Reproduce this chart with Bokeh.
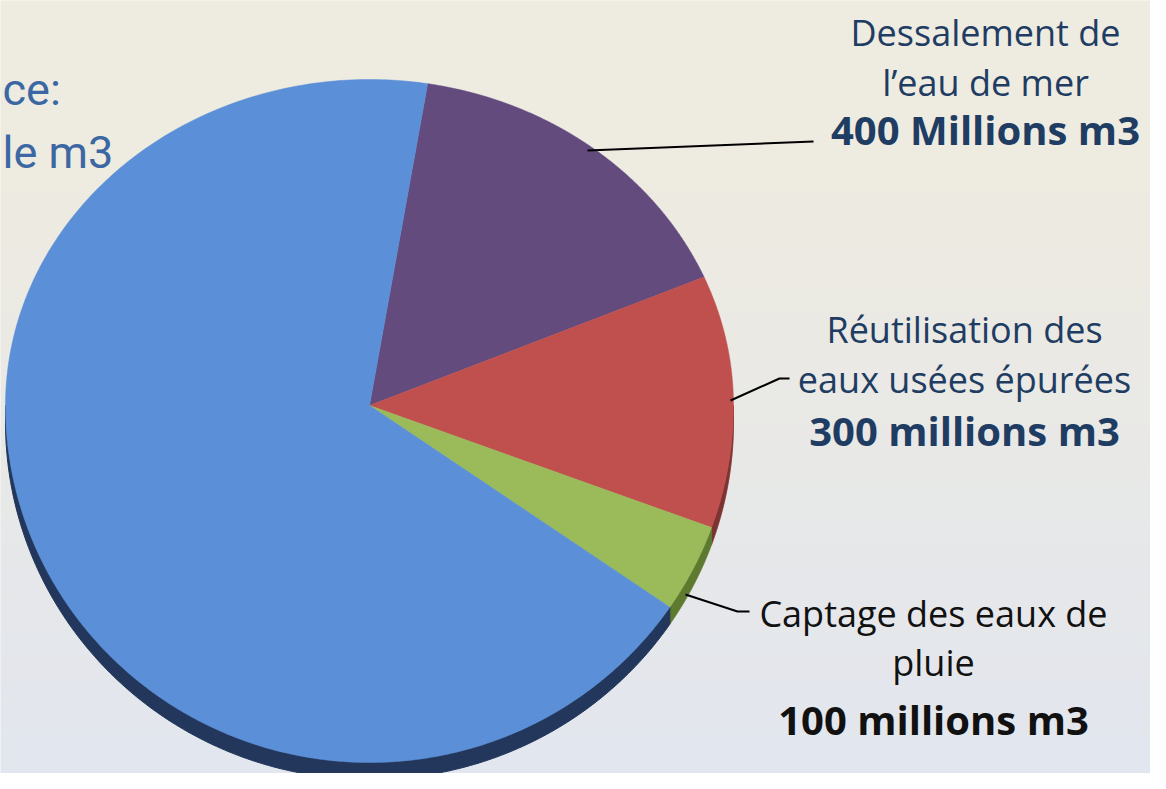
import numpy as np
from bokeh.plotting import figure
from bokeh.models import Range1d
from bokeh.core.properties import value
from bokeh.embed import file_html
from bokeh.resources import INLINE

# ---------------- data ----------------
categories = ["Dessalement de l’eau de mer",
              "Réutilisation des eaux usées épurées",
              "Captage des eaux de pluie",
              "Autres ressources"]
values = [400, 300, 100, 1700]          # millions m3
colors = ["#634b7e", "#c0504e", "#9bbb5a", "#5b8fd7"]
side_colors = ["#3e2f52", "#7e3331", "#5e7a2f", "#22375b"]

label_lines = [["Dessalement de", "l’eau de mer", "400 Millions m3"],
               ["Réutilisation des", "eaux usées épurées", "300 millions m3"],
               ["Captage des eaux de", "pluie", "100 millions m3"]]
label_colors = ["#1f3d63", "#1f3d63", "#111111"]
title_lines = ["ce:", "le m3"]

# ---------------- layout ----------------
W, H = 1150, 773
CX, CY = 369, 405        # pie vertex (screen px)
RX, RY_TOP, RY_BOT = 364, 326, 357
DEPTH = 17
START = 80.8             # degrees, first slice starts here, clockwise

label_x = [985, 964, 933]
label_y = [[32, 82, 129], [329, 379, 430], [613, 662, 719]]
leaders = [([587, 813], [150, 141]),
           ([730, 779, 789], [400, 378, 378]),
           ([685, 737, 749], [594, 611, 611])]

p = figure(width=W, height=H, x_range=Range1d(0, W), y_range=Range1d(H, 0),
           output_backend="svg", toolbar_location=None, min_border=0)
p.axis.visible = False
p.grid.visible = False
p.outline_line_color = None
p.background_fill_color = "#eceae4"
p.border_fill_color = "#eceae4"

# background gradient (beige -> light blue grey)
nb = 120
top_c = np.array([0xee, 0xeb, 0xe1])
bot_c = np.array([0xe2, 0xe6, 0xef])
edges = np.linspace(0, H, nb + 1)
bg_cols = []
for i in range(nb):
    t = (edges[i] + edges[i + 1]) / 2 / H
    t = max(0.0, (t - 0.25) / 0.75)
    c = (top_c * (1 - t) + bot_c * t).astype(int)
    bg_cols.append("#%02x%02x%02x" % tuple(c))
p.quad(left=0, right=W, top=edges[:-1], bottom=edges[1:], fill_color=bg_cols,
       line_color=None)


def pt(theta_deg, dy=0.0):
    t = np.radians(theta_deg)
    s = np.sin(t)
    ry = np.where(s > 0, RY_TOP, RY_BOT)
    return CX + RX * np.cos(t), CY - s * ry + dy


vals = np.array(values, dtype=float)
spans = vals / vals.sum() * 360.0
a_start = START - np.concatenate([[0], np.cumsum(spans)[:-1]])
a_end = a_start - spans

# side (3D depth) for lower-half parts of each slice
for a0, a1, col in zip(a_start, a_end, side_colors):
    for off in (0, -360, 360):
        lo, hi = max(a1 + off, -180), min(a0 + off, 0)
        if hi > lo:
            th = np.linspace(hi, lo, 200)
            xt, yt = pt(th)
            xb, yb = pt(th[::-1], DEPTH)
            p.patch(np.concatenate([xt, xb]), np.concatenate([yt, yb]),
                    fill_color=col, line_color=col, line_width=1)

# top faces
for a0, a1, col in zip(a_start, a_end, colors):
    th = np.linspace(a0, a1, 300)
    xs, ys = pt(th)
    p.patch(np.concatenate([[CX], xs]), np.concatenate([[CY], ys]),
            fill_color=col, line_color=col, line_width=0.5)

# leader lines
for (lx, ly) in leaders:
    p.line(lx, ly, line_color="#000000", line_width=2)

# labels
for lines, lx, lys, lc in zip(label_lines, label_x, label_y, label_colors):
    for j, (txt, ly) in enumerate(zip(lines, lys)):
        bold = j == 2
        p.text(x=[lx], y=[ly], text=[txt], text_align="center",
               text_baseline="alphabetic", text_font=value("Open Sans"),
               text_font_size="40px" if bold else "36px",
               text_font_style="bold" if bold else "normal",
               text_color=lc)

# partial title on the left
p.text(x=[2, 2], y=[89, 152], text=title_lines, text_align="left",
       text_baseline="alphabetic", text_font=value("Roboto"),
       text_font_size="45px", text_color="#3b67a3")

open("out.html", "w").write(file_html(p, INLINE))
